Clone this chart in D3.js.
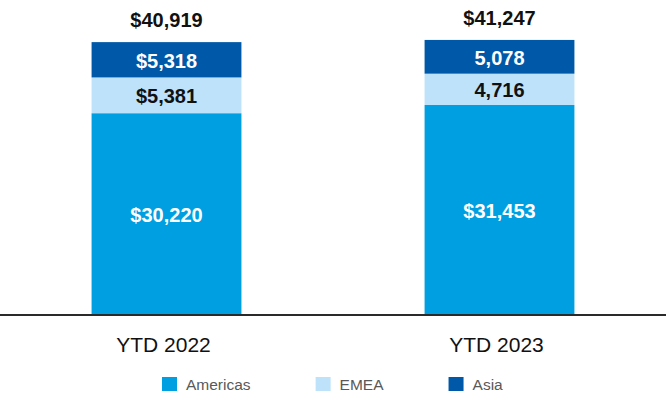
<!DOCTYPE html>
<html>
<head>
<meta charset="utf-8">
<script src="https://cdn.jsdelivr.net/npm/d3@7"></script>
<style>
  html, body { margin: 0; padding: 0; background: #fff; }
  svg { display: block; }
  text { font-family: "Liberation Sans", Arial, sans-serif; }
</style>
</head>
<body>
<svg id="chart" width="666" height="396"></svg>
<script>
const categories = ["YTD 2022", "YTD 2023"];
const seriesNames = ["Americas", "EMEA", "Asia"];
const americas = [30220, 31453];
const emea = [5381, 4716];
const asia = [5318, 5078];
const totals = [40919, 41247];
const segmentLabels = [
  ["$30,220", "$5,381", "$5,318"],
  ["$31,453", "4,716", "5,078"]
];
const totalLabels = ["$40,919", "$41,247"];
const colors = ["#009fe1", "#bde2fa", "#0059a8"];
const labelColors = ["#ffffff", "#111111", "#ffffff"];

const W = 666, H = 396;
const svg = d3.select("#chart");

const rows = categories.map((c, i) => ({
  cat: c, Americas: americas[i], EMEA: emea[i], Asia: asia[i], idx: i
}));
const stack = d3.stack().keys(seriesNames)(rows);

const x = d3.scaleBand().domain(categories).range([0, W]).paddingInner(0.55).paddingOuter(0.275);
const y = d3.scaleLinear().domain([0, 45000]).range([314, 15]);

const layers = svg.append("g").selectAll("g").data(stack).join("g")
  .attr("fill", (d, i) => colors[i]);

layers.selectAll("rect").data(d => d).join("rect")
  .attr("x", d => x(d.data.cat))
  .attr("width", x.bandwidth())
  .attr("y", d => y(d[1]))
  .attr("height", d => y(d[0]) - y(d[1]));

// segment labels
stack.forEach((layer, si) => {
  svg.append("g").selectAll("text").data(layer).join("text")
    .attr("x", d => x(d.data.cat) + x.bandwidth() / 2)
    .attr("y", d => (y(d[0]) + y(d[1])) / 2 + 1)
    .attr("text-anchor", "middle")
    .attr("dominant-baseline", "central")
    .attr("font-size", 20)
    .attr("font-weight", "bold")
    .attr("fill", labelColors[si])
    .text(d => segmentLabels[d.data.idx][si]);
});

// totals
svg.append("g").selectAll("text").data(categories).join("text")
  .attr("x", c => x(c) + x.bandwidth() / 2)
  .attr("y", (c, i) => y(totals[i]) - 22)
  .attr("text-anchor", "middle")
  .attr("dominant-baseline", "central")
  .attr("font-size", 20)
  .attr("font-weight", "bold")
  .attr("fill", "#111")
  .text((c, i) => totalLabels[i]);

// baseline
svg.append("line")
  .attr("x1", 0).attr("x2", W)
  .attr("y1", y(0) + 1).attr("y2", y(0) + 1)
  .attr("stroke", "#2a2a2a").attr("stroke-width", 2);

// category labels
svg.append("g").selectAll("text").data(categories).join("text")
  .attr("x", c => x(c) + x.bandwidth() / 2 - 3)
  .attr("y", 352)
  .attr("text-anchor", "middle")
  .attr("font-size", 21)
  .attr("fill", "#111")
  .text(c => c);

// legend
const legend = svg.append("g");
let lx = 162;
seriesNames.forEach((name, i) => {
  legend.append("rect").attr("x", lx).attr("y", 377).attr("width", 15).attr("height", 14)
    .attr("fill", colors[i]);
  const t = legend.append("text").attr("x", lx + 24).attr("y", 390)
    .attr("font-size", 15.5).attr("fill", "#595959").text(name);
  lx = lx + 24 + t.node().getComputedTextLength() + 65;
});
</script>
</body>
</html>
